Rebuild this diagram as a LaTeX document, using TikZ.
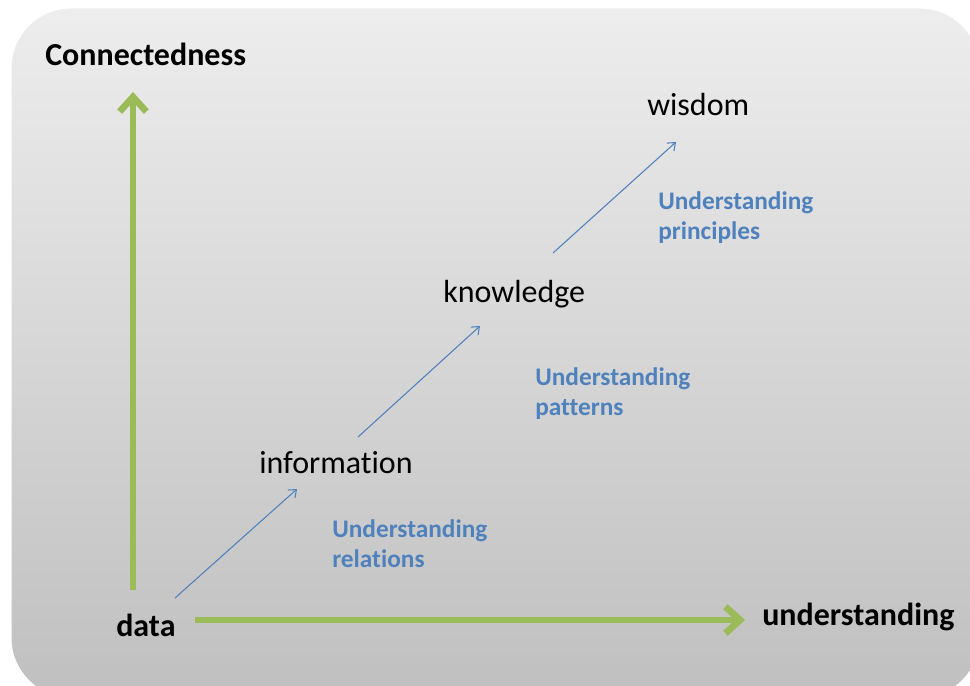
\documentclass[tikz,border=0pt]{standalone}
\usepackage{fontspec}
\setmainfont{Carlito}[Ligatures=NoCommon]
\usetikzlibrary{arrows.meta}
\definecolor{axisgreen}{HTML}{9BBB59}
\definecolor{stepblue}{HTML}{4F81BD}
\begin{document}
\begin{tikzpicture}[x=0.75pt,y=-0.75pt,
  level/.style={anchor=base west,inner sep=0pt,font=\fontsize{24}{28}\selectfont},
  axislabel/.style={level,font=\fontsize{24}{28}\selectfont\bfseries},
  note/.style={level,align=left,text=stepblue,font=\fontsize{19}{22.5}\selectfont\bfseries},
  axis/.style={axisgreen,line width=5pt,-{Straight Barb[length=11pt,width=20pt]}},
  flow/.style={stepblue,line width=0.8pt,-{Straight Barb[length=5pt,width=8pt]}}]
  \useasboundingbox (0,0) rectangle (970,685);
  \shade[top color=black!7,bottom color=black!25,draw=white,line width=0.75pt,rounded corners=45pt]
    (11,8) rectangle (980,698);
  \node (conn) [axislabel] at (45,65) {Connectedness};
  \node (data) [axislabel] at (116,636) {data};
  \node (und) [axislabel] at (762,625) {understanding};
  \node (info) [level] at (259,473) {information};
  \node (know) [level] at (443,302) {knowledge};
  \node (wis) [level] at (647,115) {wisdom};
  % base of a two-line note is its last line
  \node (rel) [note] at (332,567) {Understanding\\relations};
  \node (pat) [note] at (535,415) {Understanding\\patterns};
  \node (pri) [note] at (658,239) {Understanding\\principles};
  \coordinate (yfoot) at (133,590);
  \coordinate (ytip) at (133,92);
  \coordinate (xfoot) at (195,620);
  \coordinate (xtip) at (745,620);
  \draw[axis] (yfoot) -- (ytip);
  \draw[axis] (xfoot) -- (xtip);
  \coordinate (d1) at (175,598);
  \coordinate (i1) at (297,489);
  \coordinate (i2) at (358,437);
  \coordinate (k1) at (480,326);
  \coordinate (k2) at (553,253);
  \coordinate (w1) at (676,142);
  \draw[flow] (d1) -- (i1);
  \draw[flow] (i2) -- (k1);
  \draw[flow] (k2) -- (w1);
\end{tikzpicture}
\end{document}
